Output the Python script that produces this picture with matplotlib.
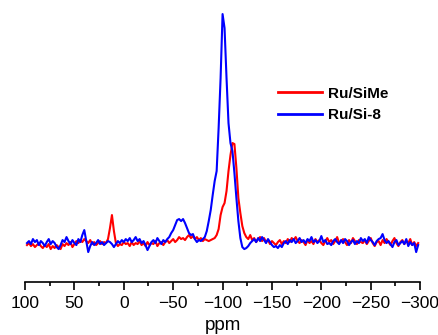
import numpy as np
import matplotlib
matplotlib.use('Agg')
import matplotlib.pyplot as plt

plt.rcParams['font.family'] = ['Liberation Sans', 'DejaVu Sans']

# chemical shift grid, 98 ... -298 ppm in steps of 2
ppm = np.arange(98, -299, -2)

# Ru/Si-8 (blue), baseline = 0
si8 = [0, 2, -1, 4, 1, 3, -2, 2, 0, -3,
       1, 4, -1, 2, 0, -4, -6, -2, 3, 1,
       6, 2, -1, 3, 0, -2, 4, 1, 8, 13,
       2, -9, -3, 1, -2, 0, 3, -1, 1, -2,
       0, 2, 1, -1, -4, -1, 2, 0, 3, 1,
       4, 2, 5, 1, 3, 6, 2, 4, 0, 2,
       -2, -7, -3, 1, 3, 0, 5, 2, -1, 3,
       1, 4, 6, 10, 13, 18, 23, 24, 22, 24,
       20, 15, 10, 8, 9, 4, 1, 3, 2, 4,
       6, 12, 22, 33, 48, 62, 72, 115, 165, 229,
       215, 165, 120, 100, 92, 70, 45, 22, 5, -4,
       -6, -5, -3, 0, 2, 4, 1, 5, 2, 6,
       3, 0, 4, 1, -2, -4, -3, -5, -2, -4,
       0, 2, -1, 3, 1, 4, 0, 2, 5, 1,
       3, 0, 4, 2, 6, 1, 3, 0, 2, 7,
       1, 3, -1, 0, -2, 2, 4, 1, -1, 3,
       0, 4, 2, -2, 1, 3, -1, 2, 0, 5,
       2, 4, 0, 6, 3, 1, -2, 2, 4, 5,
       9, 3, 0, 2, -1, -4, 1, 3, -2, 0,
       2, -1, 4, -3, 1, -2, 0, -9, -2]

# Ru/SiMe (red)
sime = [-2, 0, -3, -1, -4, -2, 0, -3, -5, -2,
        -4, -1, -6, -3, -5, -2, -4, -6, -1, -3,
        0, -2, 1, -4, -1, 2, 0, 3, 1, 4,
        2, 0, 3, -1, 1, -2, 0, 2, -1, 1,
        0, 4, 15, 28, 12, 0, -3, -1, -2, 1,
        -1, 0, -3, 1, -2, 0, -1, 2, -2, 0,
        -3, 1, -2, 0, -1, 2, -3, 0, 1, -2,
        1, 3, 0, 2, 4, 1, 3, 6, 4, 5,
        3, 6, 8, 5, 7, 4, 6, 3, 5, 2,
        4, 3, 2, 3, 4, 5, 8, 14, 28, 36,
        40, 52, 72, 88, 100, 99, 75, 45, 30, 17,
        10, 6, 4, 8, 3, 5, 1, 4, 6, 2,
        5, 1, 3, -1, 2, 0, -2, 1, 3, -1,
        2, 0, 4, 1, 5, 3, 6, 2, 0, 3,
        1, -2, 3, 0, 2, -1, 4, 1, 3, 0,
        -2, 2, 5, 1, 3, -1, 2, 6, 0, 2,
        4, 1, -2, 3, 0, 5, 2, -1, 3, 1,
        0, 3, -1, 2, 5, 0, -3, 1, 2, -2,
        3, 0, 4, 1, -2, 2, 5, 0, -3, 1,
        3, -1, 2, 0, 4, -2, 1, -3, 0]

labels = ['Ru/SiMe', 'Ru/Si-8']
farben = ['#ff0000', '#0000ff']

fig = plt.figure(figsize=(4.39, 3.35), dpi=100)
ax = fig.add_axes([0.057, 0.158, 0.9, 0.812])

ax.plot(ppm, sime, color=farben[0], lw=1.5, label=labels[0])
ax.plot(ppm, si8, color=farben[1], lw=1.5, label=labels[1])

ax.set_xlim(100, -300)
ax.set_ylim(-39, 233)
ax.set_xticks(np.arange(100, -301, -50))
ax.set_xticks(np.arange(75, -300, -50), minor=True)
ax.tick_params(axis='x', which='major', length=6, width=1.2, labelsize=12.5, pad=4)
ax.tick_params(axis='x', which='minor', length=3, width=1.2)
ax.set_yticks([])
for s in ['left', 'right', 'top']:
    ax.spines[s].set_visible(False)
ax.spines['bottom'].set_linewidth(1.2)
ax.set_xlabel('ppm', fontsize=13.5, labelpad=4)

leg = ax.legend(loc='upper left', bbox_to_anchor=(0.615, 0.764), bbox_transform=fig.transFigure,
                frameon=False, borderpad=0, handlelength=2.9, handletextpad=0.4,
                labelspacing=0.5, prop={'size': 11, 'weight': 'bold'})
for l in leg.get_lines():
    l.set_linewidth(2)

fig.savefig('out.png', dpi=100)
